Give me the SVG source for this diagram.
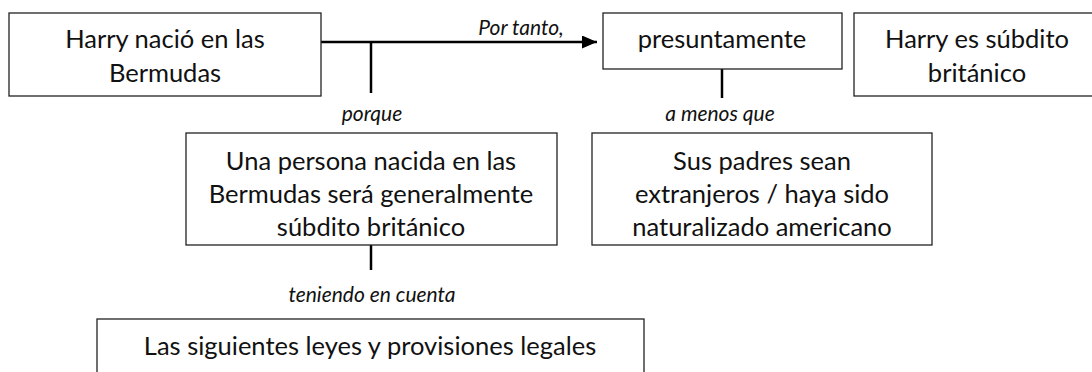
<svg xmlns="http://www.w3.org/2000/svg" width="1092" height="372" viewBox="0 0 1092 372">
  <defs>
    <style>
      .box { fill: #ffffff; stroke: #222222; stroke-width: 1.3; }
      .t { font-family: Lato, "Liberation Sans", sans-serif; font-size: 25.5px; fill: #111111; text-anchor: middle; }
      .lbl { font-family: Lato, "Liberation Sans", sans-serif; font-size: 21px; font-style: italic; fill: #111111; text-anchor: middle; }
      .c { stroke: #000000; stroke-width: 2.5; fill: none; }
    </style>
    <marker id="arrow" viewBox="0 0 15 13" refX="15" refY="6.5" markerWidth="15" markerHeight="13" markerUnits="userSpaceOnUse" orient="auto">
      <path d="M0,0 L15,6.5 L0,13 Z" fill="#000000"/>
    </marker>
  </defs>
  <rect width="1092" height="372" fill="#ffffff"/>

  <g id="connectors">
    <line class="c" x1="321" y1="42" x2="597" y2="42" marker-end="url(#arrow)"/>
    <line class="c" x1="371" y1="42" x2="371" y2="93"/>
    <line class="c" x1="722" y1="69" x2="722" y2="98"/>
    <line class="c" x1="371" y1="245" x2="371" y2="270"/>
    <text class="lbl" x="521" y="35">Por tanto,</text>
    <text class="lbl" x="372" y="121">porque</text>
    <text class="lbl" x="720" y="121">a menos que</text>
    <text class="lbl" x="372" y="302">teniendo en cuenta</text>
  </g>

  <g id="n1">
    <rect class="box" x="9" y="13" width="312" height="83"/>
    <text class="t" x="165" y="48">Harry nació en las</text>
    <text class="t" x="165" y="82">Bermudas</text>
  </g>

  <g id="n2">
    <rect class="box" x="603" y="13" width="239" height="56"/>
    <text class="t" x="722" y="48">presuntamente</text>
  </g>

  <g id="n3">
    <rect class="box" x="854" y="13" width="250" height="83"/>
    <text class="t" x="977" y="48">Harry es súbdito</text>
    <text class="t" x="977" y="82">británico</text>
  </g>

  <g id="n4">
    <rect class="box" x="186" y="133" width="371" height="112"/>
    <text class="t" x="371" y="170">Una persona nacida en las</text>
    <text class="t" x="371" y="203">Bermudas será generalmente</text>
    <text class="t" x="371" y="236">súbdito británico</text>
  </g>

  <g id="n5">
    <rect class="box" x="592" y="133" width="340" height="112"/>
    <text class="t" x="762" y="170">Sus padres sean</text>
    <text class="t" x="762" y="203">extranjeros / haya sido</text>
    <text class="t" x="762" y="236">naturalizado americano</text>
  </g>

  <g id="n6">
    <rect class="box" x="97" y="319" width="547" height="70"/>
    <text class="t" x="370" y="355">Las siguientes leyes y provisiones legales</text>
  </g>
</svg>
